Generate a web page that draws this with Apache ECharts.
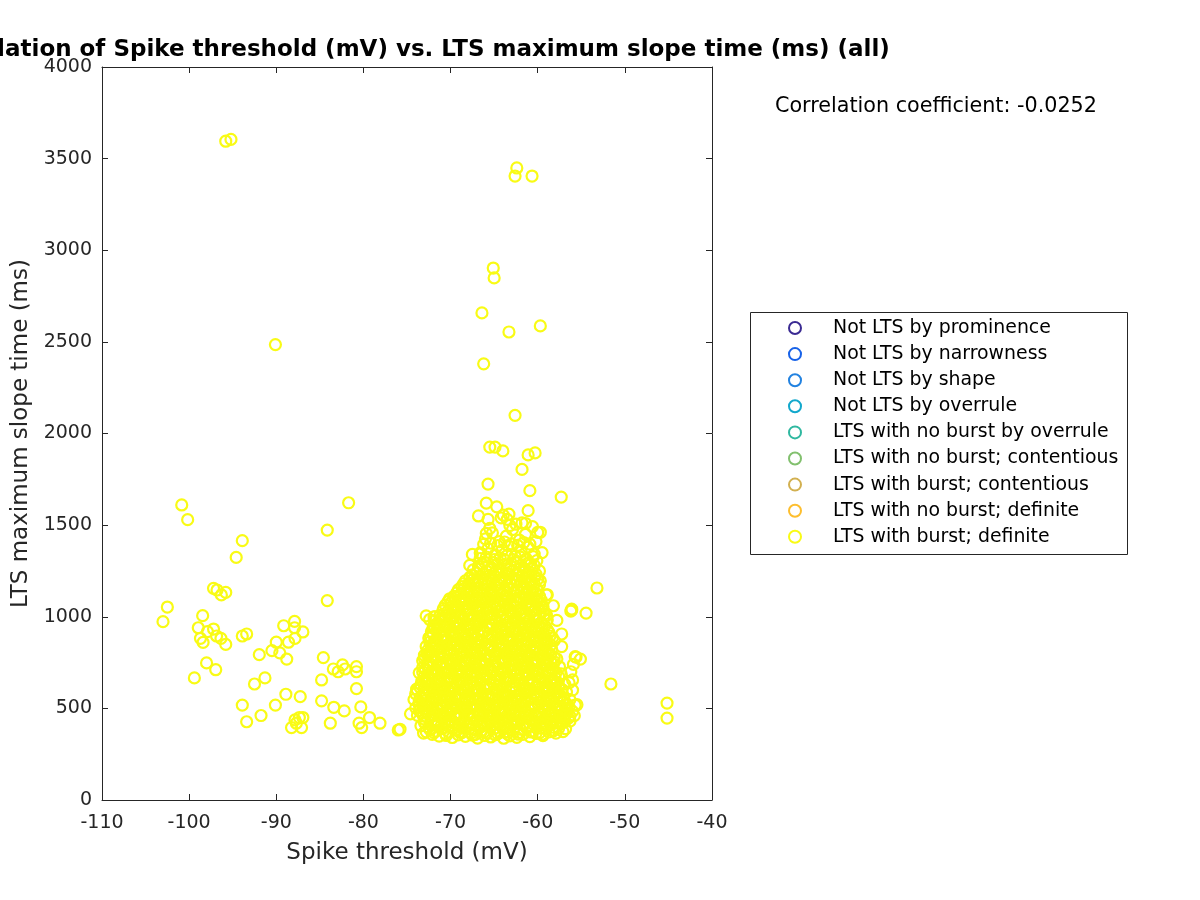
<!DOCTYPE html>
<html>
<head>
<meta charset="utf-8">
<script src="https://cdn.jsdelivr.net/npm/echarts@6/dist/echarts.min.js"></script>
<style>html,body{margin:0;padding:0;background:#fff}#c{width:1200px;height:900px}</style>
</head>
<body>
<div id="c"></div>
<script>
const titleText = 'Correlation of Spike threshold (mV) vs. LTS maximum slope time (ms) (all)';
const corrText = 'Correlation coefficient: -0.0252';
const xName = 'Spike threshold (mV)';
const yName = 'LTS maximum slope time (ms)';
const xMin = -110, xMax = -40, xStep = 10;
const yMin = 0, yMax = 4000, yStep = 500;

const seriesNames = [
  'Not LTS by prominence',
  'Not LTS by narrowness',
  'Not LTS by shape',
  'Not LTS by overrule',
  'LTS with no burst by overrule',
  'LTS with no burst; contentious',
  'LTS with burst; contentious',
  'LTS with no burst; definite',
  'LTS with burst; definite'
];
const seriesColors = ['#3A2A92','#1762E8','#2282E0','#12A8CC','#2FB8A0','#82C06E','#D2B050','#FDBE2E','#F9FB15'];

// Outliers
const outliers = [
  [-95.8,3595],[-95.2,3605],[-90.1,2485],[-100.85,1610],[-100.17,1530],[-93.9,1415],[-94.6,1324],
  [-97.2,1155],[-96.8,1146],[-96.3,1119],[-95.8,1133],[-102.5,1053],[-103.0,973],[-98.45,1006],
  [-98.95,940],[-97.2,933],[-97.9,919],[-98.7,882],[-98.4,860],[-96.85,895],[-96.35,882],[-95.8,849],
  [-93.9,895],[-93.4,906],[-98.0,748],[-96.95,711],[-99.4,666],[-91.95,793],[-90.5,815],[-90.0,861],
  [-89.6,803],[-88.8,769],[-88.6,861],[-89.15,951],[-87.9,975],[-87.9,940],[-86.95,917],[-87.85,882],
  [-84.15,1473],[-81.7,1622],[-84.15,1088],[-84.6,777],[-83.45,715],[-82.4,737],[-82.9,700],[-82.1,715],
  [-80.8,728],[-80.8,700],[-80.8,608],[-84.8,655],[-84.8,541],[-83.4,506],[-82.2,486],[-80.3,508],
  [-79.3,450],[-78.1,419],[-76.0,382],[-80.5,419],[-80.2,395],[-83.8,419],[-92.5,633],[-91.3,666],
  [-88.9,577],[-87.25,564],[-90.1,518],[-93.9,518],[-93.4,427],[-91.75,461],[-87.85,437],[-87.35,450],
  [-86.95,450],[-88.25,395],[-87.1,395],[-87.7,419],
  [-45.16,529],[-45.16,447],[-51.6,633],[-53.2,1157],[-54.45,1020],[-56.1,1042],[-56.2,1031],
  [-55.6,780],[-55.1,769],[-57.3,1653],[-57.25,906],[-57.25,837],[-55.7,782],[-57.1,373],[-75.8,386],
  [-62.4,3449],[-62.6,3405],[-60.65,3405],[-65.1,2903],[-65.0,2849],[-66.4,2658],[-63.3,2554],
  [-59.7,2587],[-66.2,2380],[-62.6,2099],[-65.5,1926],[-64.9,1926],[-64.0,1905],[-61.1,1883],
  [-60.3,1894],[-61.8,1804],[-65.7,1724],[-60.9,1688],[-64.7,1600],[-61.1,1579],[-63.95,1555],
  [-63.5,1531],[-65.7,1531],[-61.4,1509],[-59.7,1461],[-65.5,1482],[-65.9,1455],[-66.6,1349],
  [-59.0,1119],[-56.1,1037]
];

// Dense core (three interleaved layers)
const coreLow = [
  [-72.8,372],[-72.1,358],[-71.3,349],[-70.6,362],[-69.8,341],[-69.1,355],[-68.3,347],[-67.6,366],[-66.9,338],[-66.1,352],[-65.4,344],[-64.6,361],[-63.9,337],[-63.2,350],[-62.4,342],[-61.7,358],[-60.9,346],[-60.2,363],[-59.4,351],[-58.7,372],[-57.9,365],
  [-73.4,405],[-72.5,398],[-71.8,411],[-71.0,389],[-70.2,402],[-69.5,415],[-68.7,392],[-68.0,407],[-67.2,384],[-66.5,399],[-65.7,412],[-65.0,388],[-64.2,404],[-63.5,395],[-62.7,418],[-62.0,386],[-61.2,401],[-60.5,413],[-59.7,392],[-59.0,408],[-58.2,397],[-57.4,415],[-56.8,389],
  [-73.0,441],[-72.3,452],[-71.5,429],[-70.8,446],[-70.0,437],[-69.3,455],[-68.5,424],[-67.8,444],[-67.0,433],[-66.3,458],[-65.5,427],[-64.8,447],[-64.0,436],[-63.3,452],[-62.5,425],[-61.8,443],[-61.0,457],[-60.3,431],[-59.5,449],[-58.8,438],[-58.0,455],[-57.3,428],[-56.5,446],
  [-74.6,470],[-73.6,488],[-72.7,476],[-72.0,495],[-71.2,467],[-70.4,483],[-69.7,498],[-68.9,472],[-68.2,489],[-67.4,463],[-66.7,480],[-65.9,496],[-65.2,469],[-64.4,486],[-63.7,475],[-62.9,493],[-62.2,466],[-61.4,482],[-60.7,499],[-59.9,471],[-59.2,488],[-58.4,477],[-57.6,494],[-56.9,468],[-56.0,484],
  [-73.2,512],[-72.4,528],[-71.6,505],[-70.9,521],[-70.1,537],[-69.4,509],[-68.6,526],[-67.9,541],[-67.1,515],[-66.4,532],[-65.6,503],[-64.9,519],[-64.1,538],[-63.4,511],[-62.6,527],[-61.9,544],[-61.1,507],[-60.4,523],[-59.6,535],[-58.9,514],[-58.1,530],[-57.4,506],[-56.6,522],
  [-73.5,560],[-72.8,574],[-72.0,552],[-71.3,586],[-70.5,565],[-69.8,549],[-69.0,578],[-68.3,561],[-67.5,588],[-66.8,554],[-66.0,571],[-65.3,584],[-64.5,558],[-63.8,575],[-63.0,548],[-62.3,566],[-61.5,582],[-60.8,556],[-60.0,572],[-59.3,589],[-58.5,563],[-57.8,579],[-57.0,551],
  [-73.8,598],[-73.0,613],[-72.2,627],[-71.5,604],[-70.7,620],[-70.0,594],[-69.2,631],[-68.5,608],[-67.7,622],[-67.0,597],[-66.2,615],[-65.5,629],[-64.7,602],[-64.0,618],[-63.2,593],[-62.5,610],[-61.7,626],[-61.0,605],[-60.2,621],[-59.5,596],[-58.7,612],[-58.0,628],[-57.2,603]
];
const coreLowB = [
  [-72.4,385],[-71.7,376],[-70.9,391],[-70.2,370],[-69.4,382],[-68.7,368],[-67.9,388],[-67.2,357],[-66.5,379],[-65.8,366],[-65.0,390],[-64.3,372],[-63.5,361],[-62.8,383],[-62.1,369],[-61.3,392],[-60.6,377],[-59.8,366],[-59.1,389],[-58.3,380],[-57.6,392],
  [-73.0,423],[-72.2,431],[-71.4,418],[-70.6,427],[-69.9,436],[-69.1,412],[-68.4,433],[-67.6,420],[-66.9,438],[-66.1,416],[-65.3,429],[-64.6,421],[-63.8,439],[-63.1,414],[-62.3,432],[-61.6,419],[-60.8,435],[-60.1,424],[-59.3,417],[-58.6,431],[-57.8,422],[-57.0,437],
  [-73.8,462],[-73.1,458],[-72.0,466],[-71.2,452],[-70.4,471],[-69.6,461],[-68.9,449],[-68.1,467],[-67.3,455],[-66.6,472],[-65.8,460],[-65.1,451],[-64.3,469],[-63.6,457],[-62.8,474],[-62.1,453],[-61.3,465],[-60.6,448],[-59.8,470],[-59.1,459],[-58.3,466],[-57.6,453],[-56.6,474],
  [-74.0,503],[-73.1,497],[-72.3,510],[-71.6,493],[-70.8,507],[-70.0,500],[-69.3,514],[-68.5,494],[-67.8,508],[-67.0,497],[-66.3,512],[-65.5,489],[-64.8,505],[-64.0,498],[-63.3,513],[-62.5,491],[-61.8,506],[-61.0,495],[-60.3,510],[-59.5,502],[-58.8,492],[-58.0,511],[-57.2,499],[-56.4,506],
  [-73.6,538],[-72.8,545],[-72.1,533],[-71.3,551],[-70.5,541],[-69.8,530],[-69.0,548],[-68.3,537],[-67.5,556],[-66.8,542],[-66.0,529],[-65.3,550],[-64.5,536],[-63.8,557],[-63.0,532],[-62.3,546],[-61.5,539],[-60.8,553],[-60.0,531],[-59.3,547],[-58.5,540],[-57.8,555],[-57.1,535],[-56.3,548],
  [-73.1,584],[-72.4,591],[-71.6,576],[-70.9,597],[-70.1,582],[-69.4,571],[-68.6,593],[-67.9,579],[-67.1,600],[-66.4,585],[-65.6,574],[-64.9,596],[-64.1,581],[-63.4,567],[-62.6,590],[-61.9,577],[-61.1,598],[-60.4,583],[-59.6,573],[-58.9,595],[-58.1,586],[-57.4,570],[-56.7,589],
  [-73.4,630],[-72.6,640],[-71.9,618],[-71.1,634],[-70.4,643],[-69.6,620],[-68.9,637],[-68.1,628],[-67.4,645],[-66.6,632],[-65.9,619],[-65.1,640],[-64.4,627],[-63.6,644],[-62.9,624],[-62.1,638],[-61.4,616],[-60.6,635],[-59.9,645],[-59.1,624],[-58.4,639],[-57.6,618],[-56.9,632]
];
const coreMid = [
  [-73.3,648],[-72.6,664],[-71.8,641],[-71.1,676],[-70.3,653],[-69.6,669],[-68.8,644],[-68.1,660],[-67.3,677],[-66.6,650],[-65.8,667],[-65.1,639],[-64.3,656],[-63.6,672],[-62.8,646],[-62.1,663],[-61.3,679],[-60.6,652],[-59.8,668],[-59.1,642],[-58.3,659],[-57.6,674],
  [-73.6,694],[-72.9,710],[-72.1,687],[-71.4,703],[-70.6,719],[-69.9,691],[-69.1,708],[-68.4,724],[-67.6,698],[-66.9,714],[-66.1,685],[-65.4,702],[-64.6,718],[-63.9,693],[-63.1,709],[-62.4,684],[-61.6,700],[-60.9,716],[-60.1,690],[-59.4,706],[-58.6,722],[-57.9,696],
  [-72.7,738],[-72.0,756],[-71.2,731],[-70.5,748],[-69.7,765],[-69.0,740],[-68.2,757],[-67.5,729],[-66.7,746],[-66.0,763],[-65.2,735],[-64.5,752],[-63.7,768],[-63.0,741],[-62.2,758],[-61.5,732],[-60.7,749],[-60.0,766],[-59.2,737],[-58.5,754],[-57.8,770],
  [-73.0,790],[-72.3,805],[-71.5,782],[-70.8,798],[-70.0,813],[-69.3,787],[-68.5,803],[-67.8,776],[-67.0,794],[-66.3,810],[-65.5,784],[-64.8,800],[-64.0,774],[-63.3,791],[-62.5,807],[-61.8,780],[-61.0,797],[-60.3,812],[-59.5,786],[-58.8,802],[-58.1,778],
  [-72.8,838],[-72.0,852],[-71.3,826],[-70.5,843],[-69.8,859],[-69.0,832],[-68.3,848],[-67.5,821],[-66.8,838],[-66.0,855],[-65.3,828],[-64.5,845],[-63.8,818],[-63.0,835],[-62.3,851],[-61.5,824],[-60.8,841],[-60.0,857],[-59.3,830],[-58.5,846],
  [-72.5,884],[-71.8,870],[-71.0,897],[-70.3,875],[-69.5,891],[-68.8,866],[-68.0,882],[-67.3,899],[-66.5,873],[-65.8,889],[-65.0,864],[-64.3,880],[-63.5,896],[-62.8,870],[-62.0,887],[-61.3,903],[-60.5,877],[-59.8,893],[-59.0,868],[-58.3,885],
  [-72.2,918],[-71.5,934],[-70.7,947],[-70.0,921],[-69.2,938],[-68.5,912],[-67.7,929],[-67.0,945],[-66.2,918],[-65.5,935],[-64.7,909],[-64.0,926],[-63.2,942],[-62.5,915],[-61.7,932],[-61.0,948],[-60.2,922],[-59.5,939],[-58.7,913],
  [-72.4,985],[-71.6,962],[-70.9,978],[-70.1,995],[-69.4,968],[-68.6,984],[-67.9,957],[-67.1,974],[-66.4,991],[-65.6,964],[-64.9,981],[-64.1,954],[-63.4,971],[-62.6,988],[-61.9,960],[-61.1,977],[-60.4,994],[-59.6,967],[-58.9,983]
];
const coreMidB = [
  [-73.0,675],[-72.2,684],[-71.5,662],[-70.7,690],[-70.0,671],[-69.2,684],[-68.5,666],[-67.7,688],[-67.0,670],[-66.2,683],[-65.5,661],[-64.7,678],[-64.0,690],[-63.2,665],[-62.5,681],[-61.7,670],[-61.0,688],[-60.2,676],[-59.5,662],[-58.7,684],[-58.0,667],[-57.3,688],
  [-73.2,722],[-72.5,731],[-71.7,716],[-71.0,735],[-70.2,709],[-69.5,726],[-68.7,733],[-68.0,711],[-67.2,728],[-66.5,736],[-65.7,716],[-65.0,731],[-64.2,706],[-63.5,725],[-62.7,734],[-62.0,712],[-61.2,729],[-60.5,706],[-59.7,722],[-59.0,735],[-58.2,710],[-57.5,727],
  [-73.0,772],[-72.3,781],[-71.6,761],[-70.9,777],[-70.1,752],[-69.4,770],[-68.6,784],[-67.9,761],[-67.1,776],[-66.4,756],[-65.6,772],[-64.9,785],[-64.1,759],[-63.4,777],[-62.6,752],[-61.9,769],[-61.1,783],[-60.4,759],[-59.6,775],[-58.9,768],[-58.1,754],
  [-72.6,818],[-71.9,827],[-71.1,811],[-70.4,824],[-69.6,800],[-68.9,817],[-68.1,829],[-67.4,806],[-66.6,822],[-65.9,796],[-65.1,813],[-64.4,826],[-63.6,803],[-62.9,818],[-62.1,795],[-61.4,812],[-60.6,826],[-59.9,801],[-59.1,818],[-58.4,824],
  [-72.4,862],[-71.6,848],[-70.9,866],[-70.1,852],[-69.4,874],[-68.6,858],[-67.9,867],[-67.1,850],[-66.4,864],[-65.6,846],[-64.9,871],[-64.1,857],[-63.4,864],[-62.6,849],[-61.9,869],[-61.1,855],[-60.4,866],[-59.6,849],[-58.9,862],[-58.1,870],
  [-72.0,903],[-71.3,912],[-70.6,896],[-69.8,908],[-69.1,919],[-68.3,896],[-67.6,910],[-66.8,902],[-66.1,916],[-65.3,897],[-64.6,904],[-63.8,915],[-63.1,892],[-62.3,906],[-61.6,918],[-60.8,898],[-60.1,910],[-59.3,904],[-58.6,895],
  [-71.9,952],[-71.2,958],[-70.4,962],[-69.7,951],[-68.9,963],[-68.2,942],[-67.4,958],[-66.7,966],[-65.9,948],[-65.2,960],[-64.4,943],[-63.7,955],[-62.9,964],[-62.2,948],[-61.4,961],[-60.7,942],[-59.9,956],[-59.2,950]
];
const coreHigh = [
  [-71.2,1008],[-70.4,1025],[-69.7,1042],[-68.9,1015],[-68.2,1031],[-67.4,1005],[-66.7,1021],[-65.9,1038],[-65.2,1012],[-64.4,1028],[-63.7,1045],[-62.9,1018],[-62.2,1035],[-61.4,1009],[-60.7,1026],[-59.9,1043],[-59.2,1016],
  [-70.6,1063],[-69.9,1080],[-69.1,1055],[-68.4,1072],[-67.6,1089],[-66.9,1061],[-66.1,1078],[-65.4,1095],[-64.6,1068],[-63.9,1085],[-63.1,1058],[-62.4,1075],[-61.6,1092],[-60.9,1065],[-60.1,1082],[-59.4,1056],
  [-69.6,1112],[-68.8,1128],[-68.1,1145],[-67.3,1118],[-66.6,1135],[-65.8,1108],[-65.1,1125],[-64.3,1142],[-63.6,1115],[-62.8,1132],[-62.1,1105],[-61.3,1122],[-60.6,1139],[-59.8,1113],
  [-68.7,1165],[-67.9,1182],[-67.2,1158],[-66.4,1175],[-65.7,1192],[-64.9,1166],[-64.2,1183],[-63.4,1155],[-62.7,1172],[-61.9,1189],[-61.2,1162],[-60.4,1179],[-59.7,1196],
  [-67.8,1215],[-67.0,1238],[-66.3,1207],[-65.5,1226],[-64.8,1248],[-64.0,1214],[-63.3,1232],[-62.5,1205],[-61.8,1225],[-61.0,1246],[-60.3,1218],
  [-66.8,1275],[-66.1,1298],[-65.3,1268],[-64.6,1289],[-63.8,1310],[-63.1,1277],[-62.3,1295],[-61.6,1265],[-60.8,1286],[-60.1,1306],
  [-66.5,1345],[-65.7,1372],[-64.9,1338],[-64.1,1362],[-63.4,1388],[-62.6,1330],[-61.9,1355],[-61.1,1380],[-60.4,1342],
  [-66.0,1425],[-65.2,1458],[-64.4,1410],[-63.6,1440],[-62.9,1475],[-62.1,1418],[-61.4,1450],[-60.6,1492],[-62.5,1505],[-61.8,1512],[-63.2,1498]
];
const coreHighB = [
  [-71.8,1000],[-71.0,996],[-70.3,1012],[-69.5,1003],[-68.8,998],[-68.0,1012],[-67.3,990],[-66.5,1006],[-65.8,999],[-65.0,1017],[-64.3,1004],[-63.5,995],[-62.8,1006],[-62.0,1015],[-61.3,995],[-60.5,1010],[-59.8,1001],[-59.0,1008],
  [-70.8,1045],[-70.0,1052],[-69.3,1038],[-68.5,1051],[-67.8,1044],[-67.0,1048],[-66.3,1035],[-65.5,1058],[-64.8,1046],[-64.0,1055],[-63.3,1036],[-62.5,1052],[-61.8,1046],[-61.0,1052],[-60.3,1040],[-59.5,1048],
  [-70.1,1098],[-69.4,1104],[-68.6,1096],[-67.9,1108],[-67.1,1093],[-66.4,1102],[-65.6,1085],[-64.9,1104],[-64.1,1095],[-63.4,1101],[-62.6,1090],[-61.9,1103],[-61.1,1097],[-60.4,1105],[-59.6,1090],
  [-69.1,1148],[-68.4,1155],[-67.6,1142],[-66.9,1154],[-66.1,1150],[-65.4,1145],[-64.6,1157],[-63.9,1140],[-63.1,1151],[-62.4,1146],[-61.6,1156],[-60.9,1143],[-60.1,1152],
  [-68.3,1196],[-67.5,1202],[-66.8,1195],[-66.0,1206],[-65.3,1198],[-64.5,1202],[-63.8,1193],[-63.0,1205],[-62.3,1195],[-61.5,1206],[-60.8,1197],[-60.0,1205],
  [-67.4,1256],[-66.7,1262],[-65.9,1250],[-65.2,1260],[-64.4,1254],[-63.6,1262],[-62.9,1251],[-62.1,1258],[-61.4,1252],[-60.6,1261],
  [-66.6,1318],[-65.9,1326],[-65.0,1312],[-64.3,1322],[-63.5,1335],[-62.8,1312],[-62.0,1325],[-61.3,1315],[-60.5,1328],
  [-66.2,1395],[-65.4,1402],[-64.6,1388],[-63.8,1408],[-63.0,1398],[-62.3,1389],[-61.6,1405],[-60.9,1396],[-60.2,1410]
];
const coreC = [
  [-73.1,365],[-71.9,368],[-70.5,352],[-69.0,371],[-67.5,354],[-66.2,369],[-64.9,356],[-63.6,373],[-62.2,359],[-60.8,371],[-59.5,358],[-58.2,377],
  [-72.9,418],[-71.6,409],[-70.3,424],[-68.9,404],[-67.6,421],[-66.3,410],[-64.9,426],[-63.6,406],[-62.3,423],[-60.9,408],[-59.6,427],[-58.4,411],[-57.1,422],
  [-73.3,474],[-72.0,479],[-70.6,459],[-69.3,476],[-68.0,462],[-66.6,478],[-65.3,457],[-64.0,473],[-62.7,461],[-61.3,477],[-60.0,458],[-58.7,474],[-57.4,463],[-56.3,458],
  [-73.6,520],[-72.3,505],[-71.0,517],[-69.6,522],[-68.3,507],[-67.0,519],[-65.7,511],[-64.3,524],[-63.0,505],[-61.7,520],[-60.3,512],[-59.0,526],[-57.7,509],[-56.8,518],
  [-73.2,552],[-71.9,566],[-70.6,556],[-69.3,569],[-67.9,550],[-66.6,563],[-65.3,556],[-63.9,568],[-62.6,553],[-61.3,571],[-60.0,558],[-58.7,566],[-57.4,561],
  [-73.5,615],[-72.1,601],[-70.8,611],[-69.5,605],[-68.2,618],[-66.8,602],[-65.5,612],[-64.2,609],[-62.8,617],[-61.5,600],[-60.2,613],[-58.8,604],[-57.6,615],
  [-72.9,655],[-71.6,648],[-70.3,661],[-68.9,652],[-67.6,645],[-66.3,659],[-64.9,651],[-63.6,662],[-62.3,654],[-61.0,647],[-59.6,660],[-58.3,650],[-57.8,640],
  [-73.2,699],[-71.9,708],[-70.5,695],[-69.2,701],[-67.9,710],[-66.5,696],[-65.2,706],[-63.9,698],[-62.6,713],[-61.2,693],[-59.9,704],[-58.6,700],
  [-72.5,748],[-71.2,741],[-69.9,754],[-68.5,745],[-67.2,757],[-65.9,743],[-64.5,750],[-63.2,760],[-61.9,744],[-60.6,756],[-59.2,747],[-58.2,742],
  [-72.7,795],[-71.3,803],[-70.0,790],[-68.7,797],[-67.4,808],[-66.0,788],[-64.7,803],[-63.4,793],[-62.0,800],[-60.7,789],[-59.4,806],[-58.5,792],
  [-72.2,840],[-70.9,835],[-69.6,847],[-68.2,838],[-66.9,850],[-65.6,834],[-64.3,842],[-62.9,832],[-61.6,846],[-60.3,836],[-59.0,844],
  [-72.3,893],[-71.0,884],[-69.7,900],[-68.3,889],[-67.0,880],[-65.7,894],[-64.4,887],[-63.0,879],[-61.7,897],[-60.4,886],[-59.1,882],
  [-72.0,938],[-70.7,929],[-69.4,944],[-68.0,932],[-66.7,926],[-65.4,940],[-64.1,933],[-62.7,927],[-61.4,944],[-60.1,935],[-58.9,930],
  [-71.9,978],[-70.6,987],[-69.3,975],[-67.9,982],[-66.6,976],[-65.3,988],[-64.0,979],[-62.7,975],[-61.4,985],[-60.0,980],[-59.3,992],
  [-70.9,1032],[-69.6,1024],[-68.3,1040],[-66.9,1028],[-65.6,1022],[-64.3,1037],[-63.0,1030],[-61.7,1024],[-60.3,1036],[-59.4,1030],
  [-70.3,1082],[-69.0,1090],[-67.7,1075],[-66.4,1088],[-65.0,1080],[-63.7,1070],[-62.4,1087],[-61.1,1078],[-59.8,1072],
  [-69.3,1130],[-68.0,1122],[-66.7,1138],[-65.4,1127],[-64.0,1120],[-62.7,1136],[-61.4,1128],[-60.1,1125],
  [-68.5,1180],[-67.2,1187],[-65.9,1172],[-64.6,1178],[-63.2,1187],[-61.9,1172],[-60.7,1184],[-59.8,1175],
  [-67.5,1228],[-66.2,1236],[-64.9,1222],[-63.6,1240],[-62.3,1228],[-61.0,1220],[-60.2,1232],
  [-66.4,1288],[-65.1,1296],[-63.8,1284],[-62.5,1300],[-61.2,1290],[-60.4,1280]
];
const coreEdges = [
  [-74.0,580],[-73.9,605],[-74.2,548],[-72.6,800],[-73.2,760],[-72.8,1005],[-71.9,1000],[-56.3,430],[-55.8,460],
  [-55.5,520],[-56.0,600],[-56.4,640],[-56.2,700],[-55.9,740],[-58.9,1120],[-57.8,980],[-58.2,1060],[-57.3,600],
  [-67.8,1280],[-67.5,1340],[-66.8,1550],[-65.9,1620],[-64.2,1540],[-63.3,1560],[-59.5,1350],[-59.8,1250],[-60.0,1460],
  [-56.0,655],[-55.7,518]
];

const burstDefinite = outliers.concat(coreLow, coreLowB, coreMid, coreMidB, coreHigh, coreHighB, coreC, coreEdges);
const seriesData = [[],[],[],[],[],[],[],[],burstDefinite];

const FONT = '"DejaVu Sans", sans-serif';
const AX = '#262626';

const chart = echarts.init(document.getElementById('c'), null, {renderer: 'canvas'});

const axisCommon = {
  axisLine: {show: true, onZero: false, lineStyle: {color: AX, width: 1}},
  axisTick: {show: true, inside: true, length: 6, lineStyle: {color: AX, width: 1}},
  splitLine: {show: false}
};
const plain = v => String(v);

chart.setOption({
  animation: false,
  backgroundColor: '#ffffff',
  title: [
    {text: titleText, left: 403, top: 34, textAlign: 'center',
     textStyle: {fontFamily: FONT, fontSize: 23, fontWeight: 'bold', color: '#000'}},
    {text: corrText, left: 770, top: 91,
     textStyle: {fontFamily: FONT, fontSize: 20.7, fontWeight: 'normal', color: '#000'}}
  ],
  grid: {left: 102, right: 488, top: 67, bottom: 100, containLabel: false},
  xAxis: [
    Object.assign({type: 'value', min: xMin, max: xMax, interval: xStep, position: 'bottom',
      name: xName, nameLocation: 'middle', nameGap: 42,
      nameTextStyle: {fontFamily: FONT, fontSize: 23, color: AX},
      axisLabel: {fontFamily: FONT, fontSize: 19, color: AX, margin: 14, formatter: plain}}, axisCommon),
    Object.assign({type: 'value', min: xMin, max: xMax, interval: xStep, position: 'top',
      axisLabel: {show: false}}, axisCommon)
  ],
  yAxis: [
    Object.assign({type: 'value', min: yMin, max: yMax, interval: yStep, position: 'left',
      name: yName, nameLocation: 'middle', nameGap: 67,
      nameTextStyle: {fontFamily: FONT, fontSize: 23, color: AX},
      axisLabel: {fontFamily: FONT, fontSize: 19, color: AX, margin: 10, formatter: plain}}, axisCommon),
    Object.assign({type: 'value', min: yMin, max: yMax, interval: yStep, position: 'right',
      axisLabel: {show: false}}, axisCommon)
  ],
  legend: {
    orient: 'vertical', left: 783, top: 313,
    itemWidth: 12, itemHeight: 12, itemGap: 6.1,
    icon: 'circle',
    textStyle: {fontFamily: FONT, fontSize: 18.9, color: '#000', lineHeight: 20, padding: [0,0,0,27]},
    data: seriesNames.map((n, i) => ({name: n, itemStyle: {color: 'rgba(0,0,0,0)', borderColor: seriesColors[i], borderWidth: 2}}))
  },
  graphic: [
    {type: 'rect', shape: {x: 750.5, y: 312.5, width: 377, height: 242},
     style: {fill: 'none', stroke: AX, lineWidth: 1}, z: 1}
  ],
  series: seriesNames.map((n, i) => ({
    name: n, type: 'scatter', xAxisIndex: 0, yAxisIndex: 0,
    symbol: 'circle', symbolSize: 11,
    itemStyle: {color: 'rgba(0,0,0,0)', borderColor: seriesColors[i], borderWidth: 2.2, opacity: 1},
    emphasis: {disabled: true},
    data: seriesData[i]
  }))
});
</script>
</body>
</html>
